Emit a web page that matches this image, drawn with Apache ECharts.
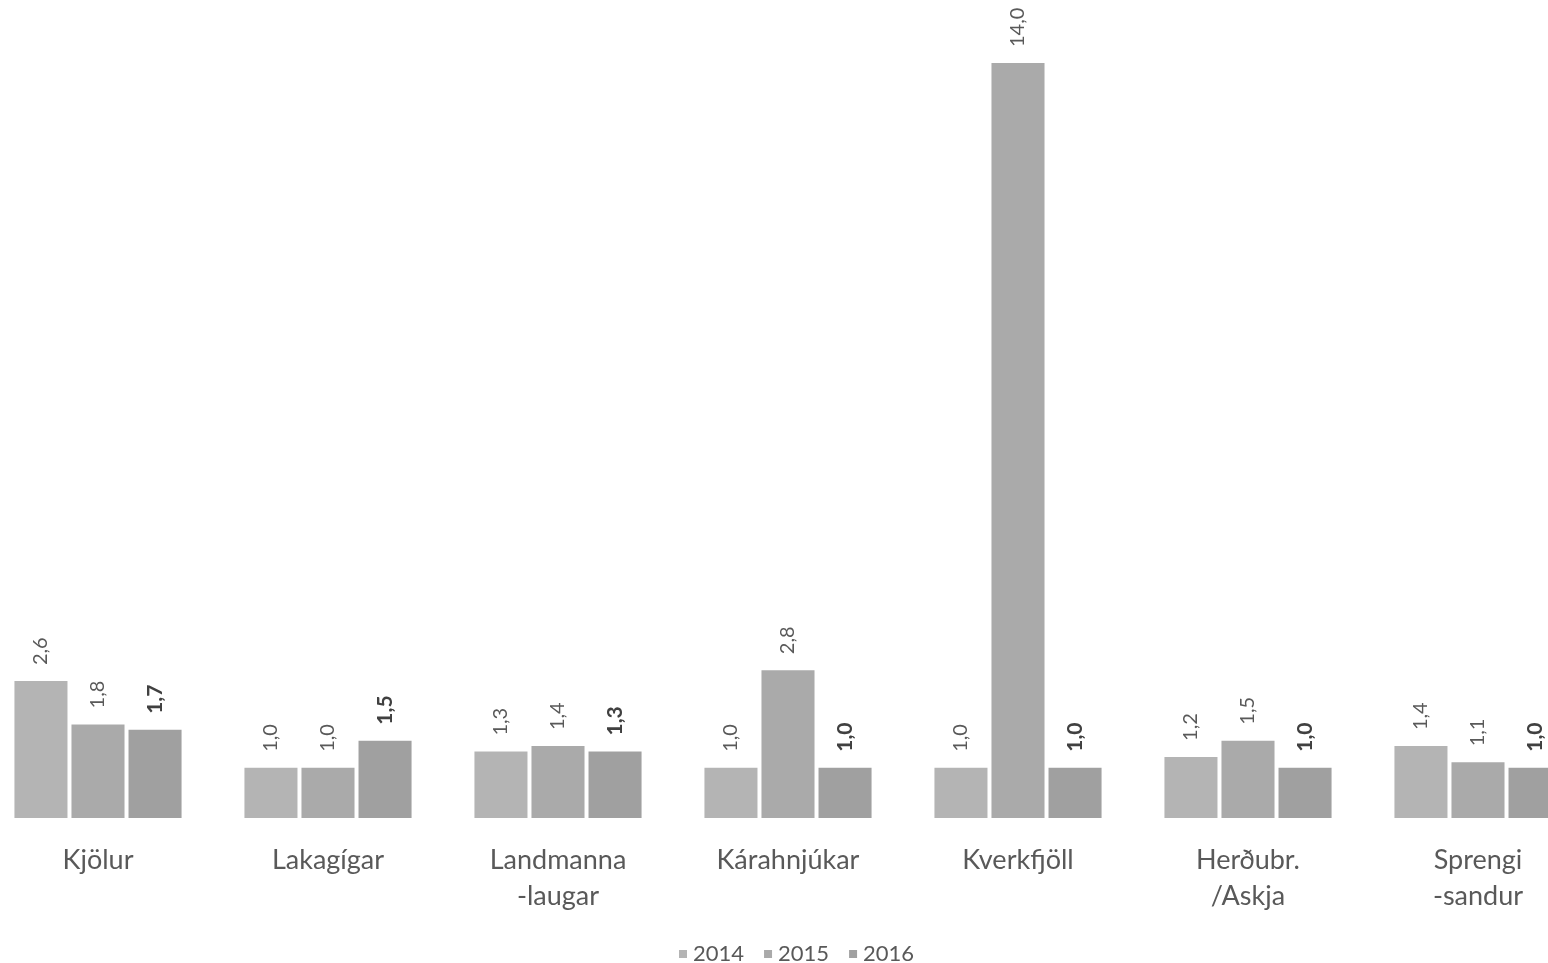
<!DOCTYPE html>
<html>
<head>
<meta charset="utf-8">
<script src="https://cdn.jsdelivr.net/npm/echarts@6/dist/echarts.min.js"></script>
<style>
  html, body { margin: 0; padding: 0; background: #fff; overflow: hidden; }
  /* the original chart is wider than the picture: cut off on both sides */
  #chart { width: 1610px; height: 963px; margin-left: -17px; }
</style>
</head>
<body>
<div id="chart"></div>
<script>
// staðir og ár
const categories = ['Kjölur', 'Lakagígar', 'Landmanna\n-laugar', 'Kárahnjúkar', 'Kverkfjöll', 'Herðubr.\n/Askja', 'Sprengi\n-sandur']
const years = ['2014', '2015', '2016']
const values2014 = [2.6, 1.0, 1.3, 1.0, 1.0, 1.2, 1.4]
const values2015 = [1.8, 1.0, 1.4, 2.8, 14.0, 1.5, 1.1]
const values2016 = [1.7, 1.5, 1.3, 1.0, 1.0, 1.0, 1.0]

const colors = ['#b4b4b4', '#aaaaaa', '#a0a0a0']
const fmt = p => p.value.toFixed(1).replace('.', ',')

const chart = echarts.init(document.getElementById('chart'))

const makeSeries = (name, data, i) => ({
  name: name,
  type: 'bar',
  data: data,
  barGap: '0%',
  barCategoryGap: '25.6%',
  itemStyle: {
    color: colors[i],
    borderColor: '#ffffff',
    borderWidth: 2
  },
  label: {
    show: true,
    position: 'top',
    rotate: 90,
    align: 'left',
    verticalAlign: 'middle',
    distance: 14,
    formatter: fmt,
    fontFamily: 'Lato',
    fontSize: i === 2 ? 21 : 20,
    fontWeight: i === 2 ? 'bold' : 'normal',
    color: i === 2 ? '#404040' : '#595959'
  }
})

const option = {
  animation: false,
  color: colors,
  legend: {
    data: years,
    left: 689,
    top: 938,
    icon: 'rect',
    itemWidth: 10,
    itemHeight: 10,
    itemGap: 18,
    textStyle: {
      fontFamily: 'Lato',
      fontSize: 22,
      color: '#595959'
    }
  },
  grid: {
    left: 0,
    right: 0,
    top: 61,
    bottom: 143
  },
  xAxis: {
    type: 'category',
    data: categories,
    axisLine: { show: false },
    axisTick: { show: false },
    axisLabel: {
      interval: 0,
      margin: 22,
      fontFamily: 'Lato',
      fontSize: 27,
      lineHeight: 36,
      color: '#595959'
    }
  },
  yAxis: {
    type: 'value',
    min: 0,
    max: 14,
    show: false,
    splitLine: { show: false }
  },
  series: [
    makeSeries('2014', values2014, 0),
    makeSeries('2015', values2015, 1),
    makeSeries('2016', values2016, 2)
  ]
}

chart.setOption(option)
</script>
</body>
</html>
